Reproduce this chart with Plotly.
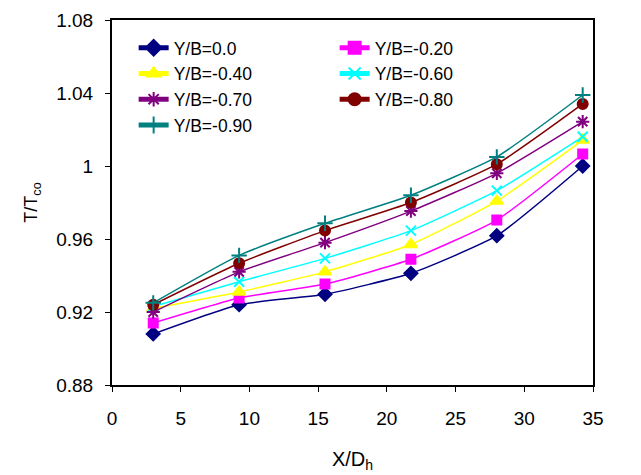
import plotly.graph_objects as go

x_vals = [3, 9.25, 15.5, 21.75, 28, 34.25]

series_names = ["Y/B=0.0", "Y/B=-0.20", "Y/B=-0.40", "Y/B=-0.60",
                "Y/B=-0.70", "Y/B=-0.80", "Y/B=-0.90"]

yb_00 = [0.908, 0.924, 0.9297, 0.9412, 0.9618, 1.000]
yb_20 = [0.914, 0.9277, 0.9353, 0.9489, 0.9704, 1.0066]
yb_40 = [0.922, 0.931, 0.942, 0.957, 0.9808, 1.0142]
yb_60 = [0.923, 0.9366, 0.9494, 0.9646, 0.9865, 1.016]
yb_70 = [0.920, 0.942, 0.958, 0.9753, 0.996, 1.0243]
yb_80 = [0.924, 0.9467, 0.9646, 0.980, 1.001, 1.034]
yb_90 = [0.925, 0.951, 0.9686, 0.984, 1.005, 1.0389]

series_vals = [yb_00, yb_20, yb_40, yb_60, yb_70, yb_80, yb_90]
colors = ["#000080", "#FF00FF", "#FFFF00", "#00FFFF", "#800080", "#800000", "#008080"]
symbols = ["diamond", "square", "triangle-up", "x-thin-open", "asterisk-open", "circle", "cross-thin-open"]
sizes = [10, 9, 11, 10, 11, 10, 11]

fig = go.Figure()
for name, yv, c, s, sz in zip(series_names, series_vals, colors, symbols, sizes):
    fig.add_trace(go.Scatter(
        x=x_vals, y=yv, name=name, mode="lines+markers",
        line=dict(color=c, width=1.5, shape="spline", smoothing=0.5),
        marker=dict(symbol=s, size=sz, color=c, line=dict(color=c, width=2)),
    ))

fig.update_layout(
    width=641, height=475,
    margin=dict(l=112, r=48, t=20, b=90),
    paper_bgcolor="white", plot_bgcolor="white",
    font=dict(family="Liberation Sans, Arial, sans-serif", color="black"),
    showlegend=True,
    legend=dict(
        orientation="h", x=0.045, y=0.973, xanchor="left", yanchor="top",
        entrywidth=156, font=dict(size=17.5), bgcolor="rgba(255,255,255,0)",
        tracegroupgap=0, itemsizing="constant",
    ),
)
fig.update_xaxes(
    range=[0, 35], tickvals=[0, 5, 10, 15, 20, 25, 30, 35],
    showgrid=False, zeroline=False, showline=True, linecolor="black", linewidth=2,
    mirror=True, ticks="outside", ticklen=5, tickcolor="black", tickwidth=1,
    tickfont=dict(size=19), ticklabelstandoff=10, automargin=False,
    title=dict(text="X/D<sub>h</sub>", font=dict(size=20), standoff=24),
)
fig.update_yaxes(
    range=[0.88, 1.08], tickvals=[0.88, 0.92, 0.96, 1.0, 1.04, 1.08],
    ticktext=["0.88", "0.92", "0.96", "1", "1.04", "1.08"],
    showgrid=False, zeroline=False, showline=True, linecolor="black", linewidth=2,
    mirror=True, ticks="outside", ticklen=5, tickcolor="black", tickwidth=1,
    tickfont=dict(size=19), ticklabelstandoff=8, automargin=False,
    title=dict(text="T/T<sub>co</sub>", font=dict(size=18), standoff=14),
)

fig.write_html("out.html")
